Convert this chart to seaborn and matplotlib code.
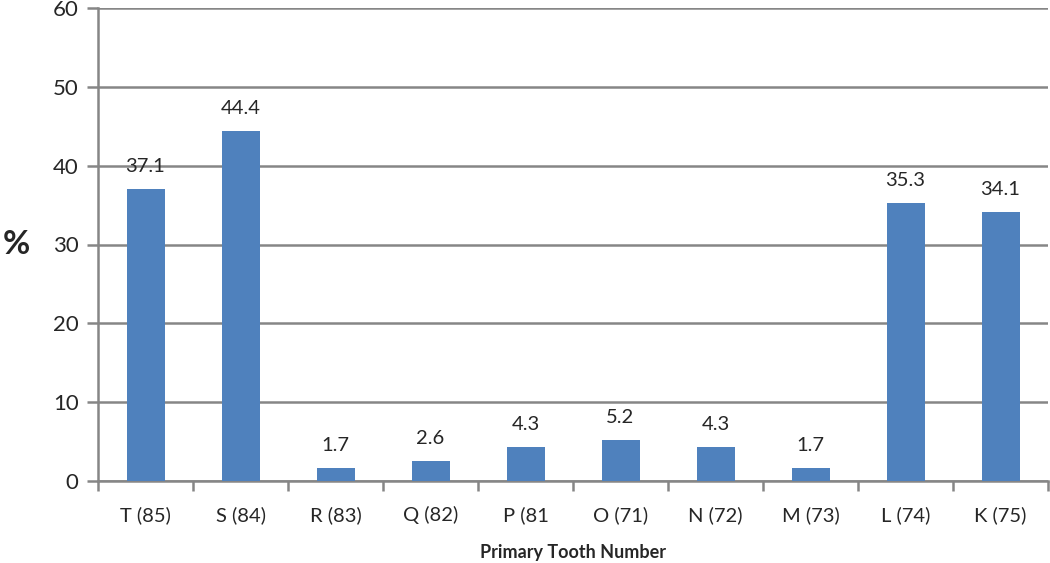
import matplotlib
matplotlib.use("Agg")
import matplotlib.pyplot as plt
import seaborn as sns
import pandas as pd
import numpy as np

categories = ["T (85)", "S (84)", "R (83)", "Q (82)", "P (81", "O (71)", "N (72)", "M (73)", "L (74)", "K (75)"]
values = [37.1, 44.4, 1.7, 2.6, 4.3, 5.2, 4.3, 1.7, 35.3, 34.1]
y_ticks = [0, 10, 20, 30, 40, 50, 60]

sns.set_theme(style="white")
plt.rcParams['font.family'] = ['Lato', 'DejaVu Sans']

df = pd.DataFrame({"cat": categories, "val": values})

fig = plt.figure(figsize=(10.5, 5.63), dpi=100)
ax = fig.add_axes([98/1050, 1 - 481/563, 950/1050, 473/563])

sns.barplot(data=df, x="cat", y="val", color="#4F81BD", width=0.4, saturation=1,
            linewidth=0, edgecolor="none", ax=ax, zorder=3)

grid_c = "#868686"
ax.set_ylim(0, 60)
ax.set_xlim(-0.5, len(categories) - 0.5)
ax.set_yticks(y_ticks)
ax.yaxis.grid(True, color=grid_c, linewidth=1.8, zorder=0)
ax.set_axisbelow(True)

for s in ["top", "right"]:
    ax.spines[s].set_visible(False)
for s in ["left", "bottom"]:
    ax.spines[s].set_color(grid_c)
    ax.spines[s].set_linewidth(1.8)

ax.tick_params(axis="y", which="major", length=8, width=1.8, color=grid_c, labelsize=16, pad=6, left=True)
ax.tick_params(axis="x", which="major", length=0, labelsize=14.5, pad=18)
ax.set_xticks(np.arange(len(categories) + 1) - 0.5, minor=True)
ax.tick_params(axis="x", which="minor", length=7, width=1.8, color=grid_c, bottom=True)

for i, v in enumerate(values):
    ax.annotate(f"{v}", (i, v), xytext=(0, 10), textcoords="offset points",
                ha="center", va="bottom", fontsize=14.5)

ax.set_xlabel("Primary Tooth Number", fontsize=13, fontweight="bold", labelpad=14)
ax.set_ylabel("%", fontsize=24, fontweight="bold", rotation=0, labelpad=26, va="center")

fig.savefig("out.png", dpi=100)
